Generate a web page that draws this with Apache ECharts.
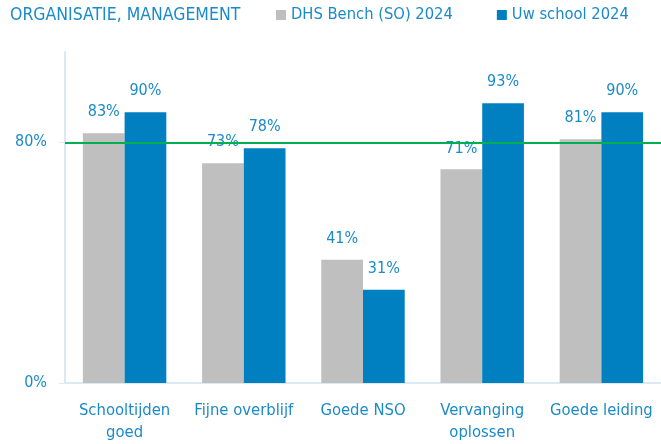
<!DOCTYPE html>
<html>
<head>
<meta charset="utf-8">
<script src="https://cdn.jsdelivr.net/npm/echarts@6/dist/echarts.min.js"></script>
<style>
  html, body { margin: 0; padding: 0; background: #fff; }
  #chart { width: 661px; height: 444px; }
</style>
</head>
<body>
<div id="chart"></div>
<script>
var categories = ['Schooltijden\ngoed', 'Fijne overblijf', 'Goede NSO', 'Vervanging\noplossen', 'Goede leiding'];
var benchValues = [83, 73, 41, 71, 81];
var schoolValues = [90, 78, 31, 93, 90];
var seriesNames = ['DHS Bench (SO) 2024', 'Uw school 2024'];
var yTicks = [0, 80];
var norm = 80;

var textBlue = '#1a8ac8';
var font = '"DejaVu Sans Condensed", sans-serif';

var chart = echarts.init(document.getElementById('chart'));

var labelOpt = {
    show: true,
    position: 'top',
    distance: 13,
    color: textBlue,
    fontFamily: font,
    fontSize: 16,
    formatter: '{c}%'
};

chart.setOption({
    animation: false,
    title: {
        text: 'ORGANISATIE, MANAGEMENT',
        left: 5,
        top: 1,
        textStyle: { color: textBlue, fontFamily: font, fontSize: 17.5, fontWeight: 'normal' }
    },
    legend: {
        data: seriesNames,
        left: 271,
        top: 2,
        itemWidth: 10,
        itemHeight: 10,
        itemGap: 44,
        icon: 'rect',
        textStyle: { color: textBlue, fontFamily: font, fontSize: 16.4 }
    },
    grid: { left: 65, top: 52, width: 600, height: 333 },
    xAxis: {
        type: 'category',
        data: categories,
        axisLine: { lineStyle: { color: '#dbe9f3', width: 2 } },
        axisTick: { show: false },
        axisLabel: { color: textBlue, fontFamily: font, fontSize: 16.5, lineHeight: 22, margin: 17, interval: 0 }
    },
    yAxis: {
        type: 'value',
        min: 0,
        max: 110,
        splitLine: { show: false },
        axisLine: { show: true, lineStyle: { color: '#dbe9f3', width: 2 } },
        axisTick: { show: true, length: 6, customValues: yTicks, lineStyle: { color: '#dbe9f3' } },
        axisLabel: {
            color: textBlue, fontFamily: font, fontSize: 16, margin: 18,
            customValues: yTicks,
            formatter: '{value}%'
        }
    },
    series: [
        {
            name: seriesNames[0],
            type: 'bar',
            data: benchValues,
            barGap: '0%',
            barCategoryGap: '30%',
            itemStyle: { color: '#bfbfbf' },
            label: labelOpt,
            z: 3
        },
        {
            name: seriesNames[1],
            type: 'bar',
            data: schoolValues,
            itemStyle: { color: '#0080c0' },
            label: labelOpt,
            z: 3
        },
        {
            // norm line, drawn behind the bars
            type: 'line',
            data: [],
            z: 1,
            markLine: {
                silent: true,
                symbol: 'none',
                label: { show: false },
                lineStyle: { color: '#00b050', width: 2, type: 'solid' },
                data: [{ yAxis: norm }]
            }
        }
    ]
});
</script>
</body>
</html>
